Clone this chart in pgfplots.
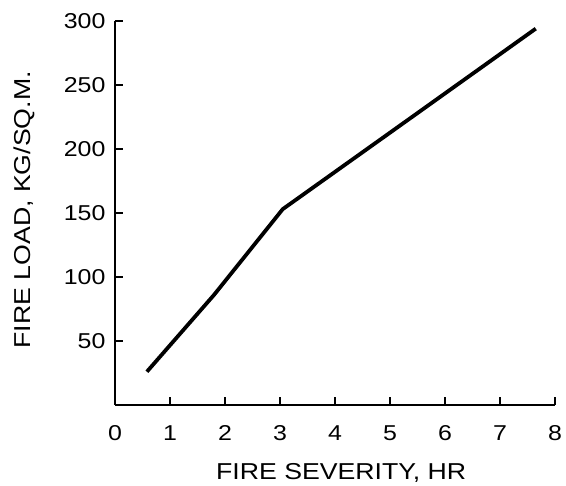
\documentclass[border=0pt]{standalone}
\usepackage{pgfplots}
\pgfplotsset{compat=1.18}
\usepackage{fontspec}
\setmainfont[FakeStretch=1.16]{Liberation Sans}
\begin{document}
\begin{tikzpicture}
\useasboundingbox (-115pt,-81pt) rectangle (451pt,405pt);
\begin{axis}[
  at={(0,0)}, anchor=south west,
  scale only axis,
  width=440pt, height=384pt,
  xmin=0, xmax=8, ymin=0, ymax=300,
  axis x line=bottom, axis y line=left,
  axis line style={-, line width=1.3pt},
  tick align=inside,
  major tick length=8pt,
  tick style={line width=1.2pt, black},
  xtick={0,1,2,3,4,5,6,7,8},
  ytick={50,100,150,200,250,300},
  /pgf/number format/assume math mode=true,
  tick label style={font=\fontsize{21.5}{24}\selectfont},
  xticklabel style={anchor=north, yshift=-17pt},
  yticklabel style={anchor=east, xshift=-6pt},
  xlabel={FIRE SEVERITY, HR},
  ylabel={FIRE LOAD, KG/SQ.M.},
  label style={font=\fontsize{23}{26}\selectfont},
  xlabel style={at={(axis description cs:0.514,-0.176)}, anchor=center},
  ylabel style={at={(axis description cs:-0.207,0.508)}, anchor=center},
  clip=false,
]
\addplot[black, line width=3.8pt, line join=round] coordinates {
  (0.58,26) (1.8,86) (3.05,153) (5.4,225) (7.65,294)
};
\end{axis}
\end{tikzpicture}
\end{document}
